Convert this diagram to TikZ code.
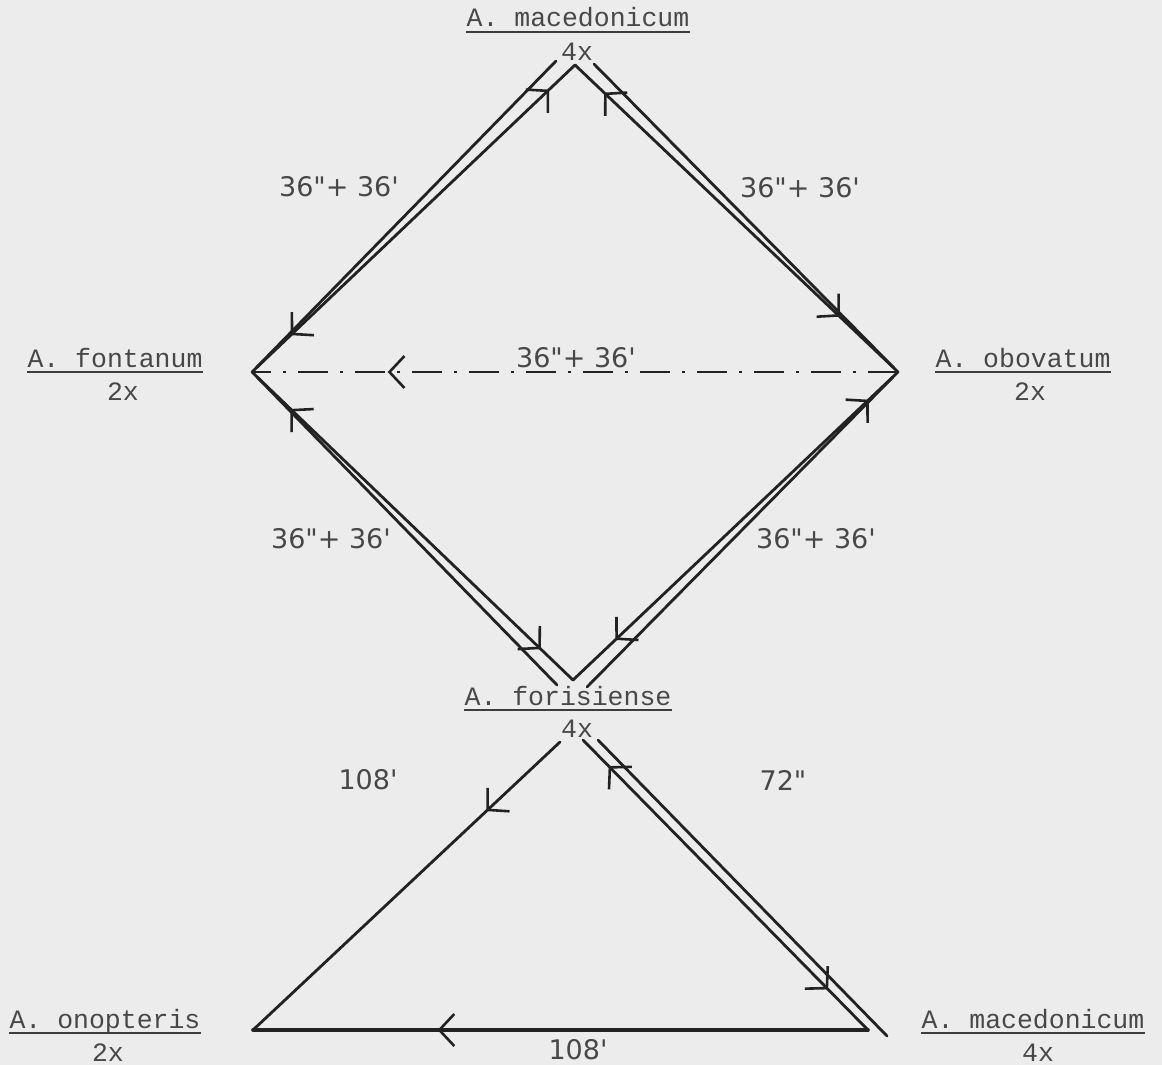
\documentclass[tikz,border=0pt]{standalone}
\usepackage{fontspec}
\setmainfont{Liberation Mono}
\newfontfamily\hand{DejaVu Sans}[Ligatures=TeXOff]
\usetikzlibrary{arrows.meta,decorations.markings}
\definecolor{bg}{RGB}{236,236,236}
\definecolor{ink}{RGB}{34,34,34}
\definecolor{txt}{RGB}{72,72,72}
\tikzset{
 lnk/.style={line width=2.8pt, draw=ink, line cap=round},
 fwd/.style={postaction={decorate,decoration={markings,mark=at position #1 with {\arrow{Straight Barb[length=15pt,width=32pt,line width=2.6pt]}}}}},
 bwd/.style={postaction={decorate,decoration={markings,mark=at position #1 with {\arrowreversed{Straight Barb[length=15pt,width=32pt,line width=2.6pt]}}}}},
 sp/.style={font=\fontsize{26.5}{30}\selectfont, text=txt, inner sep=0pt, anchor=base},
 lbl/.style={font=\hand\fontsize{27}{30}\selectfont, text=txt, inner sep=0pt},
 ul/.style={line width=2.8pt, draw=txt!85!black},
 dashdot/.style={line width=2.8pt, draw=ink, dash pattern=on 30pt off 12pt on 3pt off 12pt},
}
\begin{document}
\begin{tikzpicture}[x=1pt,y=-1pt]
\fill[bg] (0,0) rectangle (1162,1065);
\useasboundingbox (0,0) rectangle (1162,1065);
% diamond vertices
\coordinate (T) at (575,65);
\coordinate (L) at (252,372);
\coordinate (R) at (898,372);
\coordinate (B) at (573,680);
% outer companion lines
\coordinate (To1) at (556,61);
\coordinate (Lo1) at (256,368);
\coordinate (To2) at (594,64);
\coordinate (Ro2) at (894,368);
\coordinate (Bo3) at (557,685);
\coordinate (Lo3) at (257,377);
\coordinate (Bo4) at (587,687);
\coordinate (Ro4) at (893,377);
% bottom triangle
\coordinate (P1) at (560,742);
\coordinate (O) at (253,1030);
\coordinate (M) at (868,1030);
\coordinate (P2) at (583,740);
\coordinate (P3) at (598,740);
\coordinate (Mo) at (887,1036);

% diamond edges
\draw[lnk, fwd=0.92, bwd=0.12] (L) -- (T);
\draw[lnk] (To1) -- (Lo1);
\draw[lnk, bwd=0.09, fwd=0.82] (T) -- (R);
\draw[lnk] (To2) -- (Ro2);
\draw[lnk, bwd=0.12, fwd=0.90] (L) -- (B);
\draw[lnk] (Bo3) -- (Lo3);
\draw[lnk, bwd=0.09, fwd=0.87] (R) -- (B);
\draw[lnk] (Bo4) -- (Ro4);
\draw[dashdot, fwd=0.79] (R) -- (L);

% triangle
\draw[lnk, fwd=0.24] (P1) -- (O);
\draw[lnk, bwd=0.09, fwd=0.86] (P2) -- (M);
\draw[lnk] (P3) -- (Mo);
\draw[lnk, line width=3.6pt, fwd=0.70] (M) -- (O);

% species labels
\node[sp] (mac1) at (578,27) {A. macedonicum};
\node[sp] (mac1p) at (577,61) {4x};
\node[sp] (fon) at (115,367) {A. fontanum};
\node[sp] (fonp) at (123,400) {2x};
\node[sp] (obo) at (1023,367) {A. obovatum};
\node[sp] (obop) at (1030,400) {2x};
\node[sp] (for) at (568,705) {A. forisiense};
\node[sp] (forp) at (577,737) {4x};
\node[sp] (ono) at (105,1028) {A. onopteris};
\node[sp] (onop) at (108,1061) {2x};
\node[sp] (mac2) at (1033,1028) {A. macedonicum};
\node[sp] (mac2p) at (1038,1061) {4x};
\foreach \n in {mac1,fon,obo,for,ono,mac2}
  \draw[ul] ([yshift=-5pt]\n.base west) -- ([yshift=-5pt]\n.base east);

% cross labels
\node[lbl] (l1) at (339,187) {36"+ 36'};
\node[lbl] (l2) at (800,188) {36"+ 36'};
\node[lbl] (l3) at (576,358) {36"+ 36'};
\node[lbl] (l4) at (331,539) {36"+ 36'};
\node[lbl] (l5) at (816,539) {36"+ 36'};
\node[lbl] (l6) at (368,780) {108'};
\node[lbl] (l7) at (783,780) {72"};
\node[lbl] (l8) at (578,1050) {108'};
\end{tikzpicture}
\end{document}
